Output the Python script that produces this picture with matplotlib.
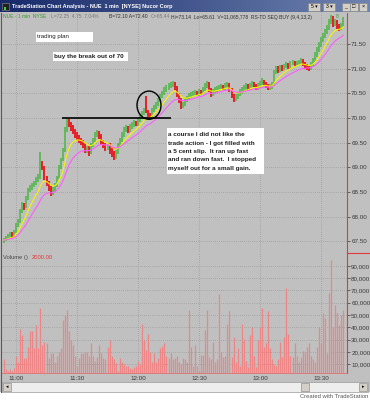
import matplotlib
matplotlib.use("Agg")
import matplotlib.pyplot as plt
from matplotlib.patches import Rectangle, Ellipse
import numpy as np
import pandas as pd

plt.rcParams['font.family'] = ['Liberation Sans', 'DejaVu Sans']

# --- data (NUE, 1 min bars from 10:54) ---
start_time = "10:54"
time_labels = ["11:00", "11:30", "12:00", "12:30", "13:00", "13:30"]

opens = [
    67.50, 67.53, 67.57, 67.61, 67.65, 67.60, 67.70, 67.83, 67.90, 68.10,
    68.24, 68.20, 68.38, 68.54, 68.58, 68.64, 68.68, 68.75, 68.79, 69.05,
    69.00, 68.79, 68.68, 68.58, 68.48, 68.54, 68.64, 68.79, 69.00, 69.15,
    69.35, 69.76, 69.92, 69.88, 69.80, 69.72, 69.66, 69.60, 69.55, 69.51,
    69.45, 69.35, 69.39, 69.31, 69.45, 69.55, 69.66, 69.70, 69.64, 69.51,
    69.45, 69.39, 69.45, 69.35, 69.29, 69.21, 69.31, 69.45, 69.55, 69.66,
    69.76, 69.80, 69.76, 69.82, 69.86, 69.90, 69.88, 69.96, 70.02, 70.10,
    70.40, 70.13, 70.08, 70.06, 70.16, 70.22, 70.28, 70.36, 70.43, 70.50,
    70.57, 70.61, 70.65, 70.67, 70.69, 70.61, 70.47, 70.36, 70.24, 70.28,
    70.36, 70.40, 70.45, 70.47, 70.49, 70.51, 70.49, 70.53, 70.51, 70.57,
    70.65, 70.69, 70.57, 70.47, 70.53, 70.57, 70.59, 70.61, 70.63, 70.61,
    70.65, 70.67, 70.57, 70.45, 70.38, 70.43, 70.47, 70.53, 70.57, 70.61,
    70.65, 70.61, 70.65, 70.69, 70.65, 70.61, 70.65, 70.69, 70.73, 70.69,
    70.65, 70.61, 70.63, 70.67, 70.93, 71.01, 70.97, 71.03, 71.01, 71.05,
    71.09, 71.05, 71.11, 71.13, 71.09, 71.11, 71.13, 71.17, 71.11, 71.05,
    71.03, 71.01, 71.09, 71.17, 71.28, 71.38, 71.48, 71.58, 71.66, 71.74,
    71.82, 71.94, 72.02, 71.90, 71.94, 71.86, 71.82, 71.88]

closes = [
    67.53, 67.57, 67.61, 67.65, 67.60, 67.70, 67.83, 67.90, 68.10, 68.24,
    68.20, 68.38, 68.54, 68.58, 68.64, 68.68, 68.75, 68.79, 69.05, 69.00,
    68.79, 68.68, 68.58, 68.48, 68.54, 68.64, 68.79, 69.00, 69.15, 69.35,
    69.76, 69.92, 69.88, 69.80, 69.72, 69.66, 69.60, 69.55, 69.51, 69.45,
    69.35, 69.39, 69.31, 69.45, 69.55, 69.66, 69.70, 69.64, 69.51, 69.45,
    69.39, 69.45, 69.35, 69.29, 69.21, 69.31, 69.45, 69.55, 69.66, 69.76,
    69.80, 69.76, 69.82, 69.86, 69.90, 69.88, 69.96, 70.02, 70.10, 70.15,
    70.13, 70.08, 70.06, 70.16, 70.22, 70.28, 70.36, 70.43, 70.50, 70.57,
    70.61, 70.65, 70.67, 70.69, 70.61, 70.47, 70.36, 70.24, 70.28, 70.36,
    70.40, 70.45, 70.47, 70.49, 70.51, 70.49, 70.53, 70.51, 70.57, 70.65,
    70.69, 70.57, 70.47, 70.53, 70.57, 70.59, 70.61, 70.63, 70.61, 70.65,
    70.67, 70.57, 70.45, 70.38, 70.43, 70.47, 70.53, 70.57, 70.61, 70.65,
    70.61, 70.65, 70.69, 70.65, 70.61, 70.65, 70.69, 70.73, 70.69, 70.65,
    70.61, 70.63, 70.67, 70.93, 71.01, 70.97, 71.03, 71.01, 71.05, 71.09,
    71.05, 71.11, 71.13, 71.09, 71.11, 71.13, 71.17, 71.11, 71.05, 71.03,
    71.01, 71.09, 71.17, 71.28, 71.38, 71.48, 71.58, 71.66, 71.74, 71.82,
    71.94, 72.02, 71.90, 71.94, 71.86, 71.82, 71.88, 71.98]

highs = [
    67.58, 67.61, 67.66, 67.70, 67.69, 67.74, 67.87, 67.95, 68.15, 68.29,
    68.28, 68.42, 68.58, 68.64, 68.69, 68.73, 68.80, 68.86, 69.31, 69.12,
    69.03, 68.83, 68.72, 68.62, 68.60, 68.68, 68.83, 69.05, 69.20, 69.40,
    69.82, 70.00, 69.97, 69.92, 69.85, 69.77, 69.71, 69.65, 69.60, 69.56,
    69.50, 69.44, 69.43, 69.50, 69.60, 69.71, 69.76, 69.74, 69.67, 69.56,
    69.50, 69.50, 69.49, 69.40, 69.33, 69.36, 69.50, 69.60, 69.71, 69.81,
    69.86, 69.84, 69.87, 69.91, 69.95, 69.94, 70.01, 70.07, 70.14, 70.20,
    70.44, 70.16, 70.11, 70.20, 70.27, 70.33, 70.41, 70.48, 70.55, 70.62,
    70.67, 70.70, 70.72, 70.75, 70.72, 70.64, 70.50, 70.40, 70.33, 70.41,
    70.45, 70.50, 70.52, 70.54, 70.56, 70.55, 70.58, 70.57, 70.62, 70.70,
    70.75, 70.72, 70.61, 70.58, 70.62, 70.64, 70.66, 70.68, 70.67, 70.70,
    70.73, 70.70, 70.60, 70.49, 70.48, 70.52, 70.58, 70.62, 70.66, 70.70,
    70.68, 70.70, 70.74, 70.72, 70.68, 70.70, 70.74, 70.80, 70.76, 70.72,
    70.68, 70.68, 70.72, 70.98, 71.06, 71.05, 71.08, 71.07, 71.10, 71.14,
    71.12, 71.16, 71.18, 71.16, 71.16, 71.18, 71.22, 71.20, 71.14, 71.09,
    71.07, 71.14, 71.22, 71.33, 71.43, 71.53, 71.63, 71.72, 71.80, 71.88,
    72.00, 72.08, 72.06, 72.00, 71.98, 71.90, 71.93, 72.04]

lows = [
    67.46, 67.50, 67.54, 67.58, 67.55, 67.57, 67.67, 67.80, 67.88, 68.07,
    68.14, 68.17, 68.35, 68.50, 68.55, 68.60, 68.64, 68.71, 68.76, 68.95,
    68.74, 68.62, 68.52, 68.42, 68.44, 68.50, 68.60, 68.76, 68.96, 69.12,
    69.32, 69.72, 69.82, 69.74, 69.67, 69.60, 69.55, 69.50, 69.45, 69.40,
    69.30, 69.30, 69.24, 69.28, 69.41, 69.52, 69.62, 69.58, 69.46, 69.40,
    69.33, 69.35, 69.28, 69.22, 69.15, 69.17, 69.27, 69.41, 69.51, 69.62,
    69.72, 69.70, 69.72, 69.78, 69.82, 69.83, 69.84, 69.92, 69.99, 70.06,
    70.10, 70.02, 70.01, 70.03, 70.12, 70.18, 70.25, 70.32, 70.40, 70.46,
    70.53, 70.57, 70.60, 70.63, 70.56, 70.42, 70.30, 70.18, 70.20, 70.25,
    70.32, 70.36, 70.41, 70.43, 70.45, 70.44, 70.45, 70.46, 70.48, 70.54,
    70.61, 70.52, 70.42, 70.44, 70.49, 70.53, 70.55, 70.57, 70.56, 70.57,
    70.61, 70.52, 70.40, 70.33, 70.34, 70.39, 70.44, 70.49, 70.53, 70.57,
    70.56, 70.57, 70.61, 70.60, 70.56, 70.57, 70.61, 70.65, 70.64, 70.60,
    70.56, 70.57, 70.59, 70.64, 70.89, 70.92, 70.93, 70.96, 70.97, 71.01,
    71.00, 71.01, 71.07, 71.04, 71.05, 71.07, 71.09, 71.06, 71.00, 70.98,
    70.96, 70.97, 71.05, 71.13, 71.24, 71.34, 71.44, 71.54, 71.62, 71.70,
    71.78, 71.90, 71.85, 71.86, 71.81, 71.77, 71.78, 71.84]

volumes = [
    14000, 6000, 5000, 6000, 5000, 7000, 17000, 12000, 39000, 34000,
    15000, 15000, 24000, 37000, 37000, 23000, 42000, 23000, 56000, 26000,
    28000, 27000, 15000, 19000, 19000, 12000, 17000, 20000, 23000, 46000,
    50000, 54000, 37000, 30000, 26000, 17000, 9000, 15000, 19000, 19000,
    20000, 20000, 17000, 27000, 17000, 13000, 16000, 26000, 19000, 15000,
    14000, 24000, 30000, 17000, 14000, 11000, 5000, 15000, 12000, 10000,
    9000, 9000, 7000, 6000, 8000, 9000, 13000, 10000, 43000, 30000,
    22000, 35000, 20000, 12000, 19000, 12000, 15000, 23000, 25000, 27000,
    17000, 15000, 19000, 14000, 15000, 17000, 12000, 10000, 15000, 14000,
    12000, 54000, 24000, 9000, 26000, 9000, 5000, 18000, 18000, 38000,
    54000, 16000, 14000, 28000, 12000, 14000, 67000, 20000, 16000, 17000,
    43000, 53000, 16000, 32000, 12000, 23000, 9000, 43000, 31000, 13000,
    8000, 34000, 40000, 17000, 8000, 30000, 40000, 56000, 24000, 27000,
    53000, 23000, 14000, 10000, 9000, 14000, 28000, 16000, 32000, 72000,
    35000, 17000, 16000, 27000, 17000, 12000, 16000, 21000, 20000, 24000,
    27000, 17000, 14000, 12000, 24000, 40000, 27000, 52000, 48000, 19000,
    68000, 95000, 40000, 58000, 52000, 42000, 50000, 54000]

price_ticks = [67.5, 68.0, 68.5, 69.0, 69.5, 70.0, 70.5, 71.0, 71.5]
volume_ticks = [10000, 20000, 30000, 40000, 50000, 60000, 70000, 80000, 90000]
breakout_level = 70.0

note_lines = ["a course I did not like the",
              "trade action - I got filled with",
              "a 5 cent slip.  It ran up fast",
              "and ran down fast.  I stopped",
              "myself out for a small gain."]

# --- styling ---
W, H = 370, 400
BG = '#c0c0c0'
GREEN = '#5db856'
RED = '#e8131b'
AXRED = '#e23a3a'
GRID = '#8e8e8e'


def minutes(t):
    h, m = t.split(':')
    return int(h) * 60 + int(m)


def px_rect(x0, y0, x1, y1):
    return [x0 / W, 1 - y1 / H, (x1 - x0) / W, (y1 - y0) / H]


o = np.array(opens)
c = np.array(closes)
idx = np.arange(len(c))
tick_idx = [minutes(t) - minutes(start_time) for t in time_labels]
ema_fast = pd.Series(c).ewm(span=9, adjust=False).mean()
ema_slow = pd.Series(c).ewm(span=18, adjust=False).mean()

fig = plt.figure(figsize=(W / 100, H / 100), dpi=100)
fig.patch.set_facecolor(BG)

ax_p = fig.add_axes(px_rect(2, 13, 347, 253))
ax_v = fig.add_axes(px_rect(2, 253, 347, 373), sharex=ax_p)

for ax in (ax_p, ax_v):
    ax.set_facecolor(BG)
    for s in ('left', 'top', 'bottom'):
        ax.spines[s].set_visible(False)
    ax.spines['right'].set_color(AXRED)
    ax.spines['right'].set_linewidth(0.8)
    ax.yaxis.tick_right()
    ax.tick_params(axis='y', length=2, width=0.5, pad=1, labelsize=4.5,
                   colors='#3a3a3a')
    ax.tick_params(axis='x', length=0)
    ax.grid(True, color=GRID, linestyle=(0, (1, 2)), linewidth=0.5)
    ax.set_axisbelow(True)

# price bars + averages
bar_colors = np.where(c >= o, GREEN, RED)
ax_p.vlines(idx, lows, highs, colors=bar_colors, linewidth=1.3, zorder=3)
ax_p.plot(idx, ema_fast, color='#f5f500', linewidth=0.8, zorder=4)
ax_p.plot(idx, ema_slow, color='#ff5cff', linewidth=0.8, zorder=4)
ax_p.hlines(breakout_level, 28.6, 82.2, color='black', linewidth=1.2, zorder=5)
ax_p.add_patch(Ellipse((71.4, 70.26), 11.8, 0.57, fill=False,
                       edgecolor='black', linewidth=1.0, zorder=5))
ax_p.set_xlim(-0.9, 168.8)
ax_p.set_ylim(67.267, 72.126)
ax_p.set_yticks(price_ticks)
ax_p.set_yticklabels([f"{p:.2f}" for p in price_ticks])
ax_p.set_xticks(tick_idx)
ax_p.tick_params(axis='x', labelbottom=False)

# volume histogram (thin pink sticks)
ax_v.vlines(idx, 0, volumes, colors='#ec8585', linewidth=0.9, zorder=3)
ax_v.spines['bottom'].set_visible(True)
ax_v.spines['bottom'].set_color('#e07070')
ax_v.spines['bottom'].set_linewidth(0.6)
ax_v.set_ylim(3000, 100400)
ax_v.set_yticks(volume_ticks)
ax_v.set_yticklabels([f"{v:,}" for v in volume_ticks])
ax_v.set_xticks(tick_idx)
ax_v.set_xticklabels(time_labels)
ax_v.tick_params(axis='x', labelsize=4.5, colors='#3a3a3a', pad=2)

# --- window chrome / annotations in pixel space ---
ax_o = fig.add_axes([0, 0, 1, 1], zorder=10)
ax_o.patch.set_alpha(0)
grad = np.linspace(0, 1, 256)[None, :]
ax_o.imshow(grad, extent=(0, W, 12.5, 0), aspect='auto',
            cmap=matplotlib.colors.LinearSegmentedColormap.from_list(
                'tb', ['#18296a', '#6f83b0']))
ax_o.set_xlim(0, W)
ax_o.set_ylim(H, 0)
ax_o.axis('off')

ax_o.add_patch(Rectangle((2, 3), 7, 7, fc='#202020', ec='#909090', lw=0.4))
ax_o.add_patch(Rectangle((3.5, 6.5), 2, 3, fc='#3ad03a', lw=0))
ax_o.text(12, 6.4, "TradeStation Chart Analysis - NUE  1 min  [NYSE] Nucor Corp",
          color='white', fontsize=4.0, fontweight='bold', va='center')
for x0, lab in ((308, "5 \u25be"), (323, "3 \u25be")):
    ax_o.add_patch(Rectangle((x0, 2.5), 12, 8, fc='#d4d0c8', ec='#808080', lw=0.4))
    ax_o.text(x0 + 6, 6.6, lab, fontsize=3.6, ha='center', va='center', color='black')
for x0, lab in ((342, "_"), (350, "\u25a1"), (359, "\u00d7")):
    ax_o.add_patch(Rectangle((x0, 2.5), 7.5, 8, fc='#d4d0c8', ec='#808080', lw=0.4))
    ax_o.text(x0 + 3.75, 6.5, lab, fontsize=4, ha='center', va='center', color='black')

# status line
info = [(3, "NUE - 1 min  NYSE", '#3a9a2a'),
        (51, "L=72.25  4.75  7.04%", '#7a7a7a'),
        (109, "B=72.10 A=72.40", '#303030'),
        (151, "O=65.44", '#7a7a7a'),
        (171, "Hi=73.14  Lo=65.61  V=11,065,778  RS-TD SEQ BUY (9,4,13,2)", '#303030'),
        (336, "8", '#3a9a2a')]
for x0, s, col in info:
    ax_o.text(x0, 17, s, fontsize=3.6, color=col, va='center')

ax_o.text(3, 257.5, "Volume ()", fontsize=4.2, color='#4a4a4a', va='center')
ax_o.text(32, 257.5, "2000.00", fontsize=4.2, color=AXRED, va='center')

# separator on the price scale
ax_o.plot([347, W], [253, 253], color=AXRED, linewidth=0.8)
ax_o.plot([1, 1], [12.5, 392], color='#5a5a5a', linewidth=0.8)

# annotation boxes
ax_o.add_patch(Rectangle((36, 31.5), 57, 10, fc='white', lw=0))
ax_o.text(37, 36.6, "trading plan", fontsize=4.4, color='#202020', va='center')
ax_o.add_patch(Rectangle((53, 51.5), 75, 9.5, fc='white', lw=0))
ax_o.text(54, 56.3, "buy the break out of 70", fontsize=4.6, fontweight='bold',
          color='#202020', va='center')
ax_o.add_patch(Rectangle((167, 128), 97, 46, fc='white', lw=0))
for k, line in enumerate(note_lines):
    ax_o.text(168, 135 + k * 8.3, line, fontsize=4.6, fontweight='bold',
              color='#202020', va='center')

# scroll bar and footer
ax_o.add_patch(Rectangle((0, 392), W, 8, fc='white', lw=0))
ax_o.add_patch(Rectangle((2, 382), 366, 9.5, fc='#eeeeee', ec='#9a9a9a', lw=0.5))
ax_o.add_patch(Rectangle((3, 383), 7.5, 7.5, fc='#d4d0c8', ec='#808080', lw=0.4))
ax_o.text(6.8, 386.8, "\u25c2", fontsize=3.5, ha='center', va='center')
ax_o.add_patch(Rectangle((301, 383), 8, 7.5, fc='#d4d0c8', ec='#808080', lw=0.4))
ax_o.add_patch(Rectangle((359, 383), 7.5, 7.5, fc='#d4d0c8', ec='#808080', lw=0.4))
ax_o.text(362.8, 386.8, "\u25b8", fontsize=3.5, ha='center', va='center')
ax_o.text(368, 396.5, "Created with TradeStation", fontsize=4.2, color='#555555',
          ha='right', va='center')

fig.savefig("out.png", dpi=100, facecolor=fig.get_facecolor())
